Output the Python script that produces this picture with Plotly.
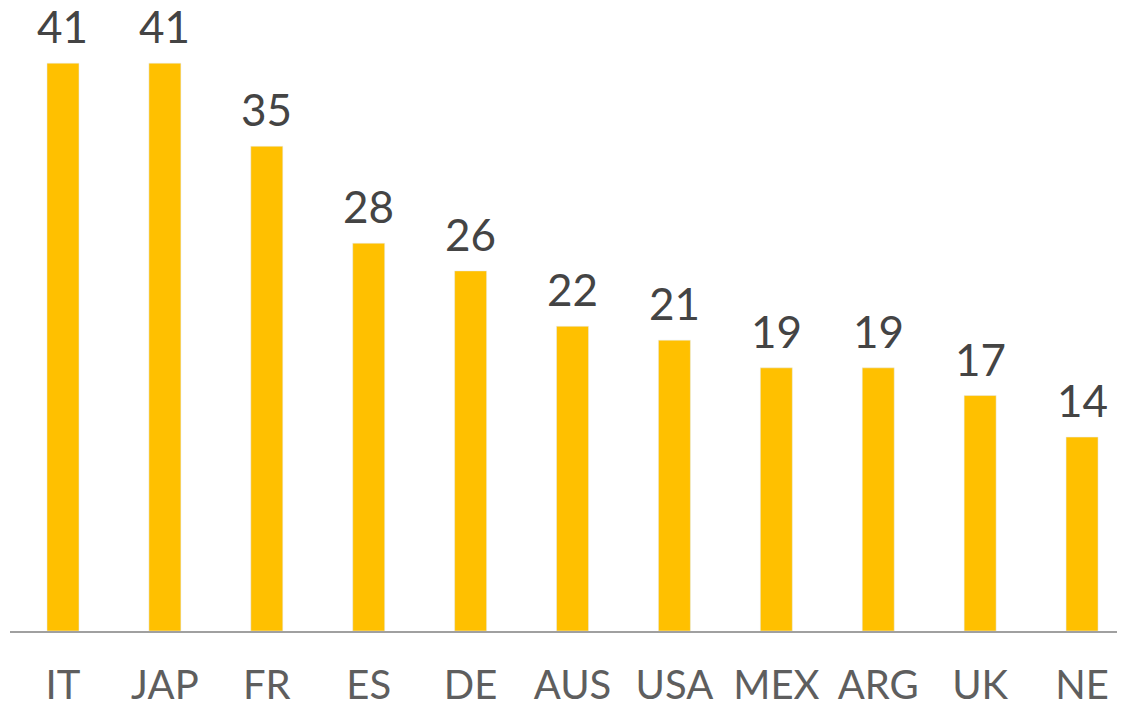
import plotly.graph_objects as go

categories = ["IT", "JAP", "FR", "ES", "DE", "AUS", "USA", "MEX", "ARG", "UK", "NE"]
values = [41, 41, 35, 28, 26, 22, 21, 19, 19, 17, 14]

bar_color = "#FFC000"
font_family = "Lato, 'Open Sans', sans-serif"

fig = go.Figure()
fig.add_trace(go.Bar(
    x=categories, y=values, marker_color=bar_color, width=0.314,
    hoverinfo="skip", cliponaxis=False,
))

for c, v in zip(categories, values):
    fig.add_annotation(x=c, y=v, text=str(v), showarrow=False, yanchor="bottom",
                       yshift=9, font=dict(size=44, color="#444444", family=font_family))

fig.update_layout(
    width=1125, height=707,
    margin=dict(l=2, r=0, t=0, b=84, autoexpand=False),
    paper_bgcolor="white", plot_bgcolor="white",
    showlegend=False,
    xaxis=dict(range=[-0.52, 10.5], showline=True, linecolor="#A0A0A0", linewidth=2,
               ticks="outside", ticklen=18, tickcolor="rgba(0,0,0,0)",
               tickfont=dict(size=40, color="#5E5E5E", family=font_family),
               showgrid=False, zeroline=False, fixedrange=True, automargin=False),
    yaxis=dict(range=[0, 44.98], visible=False, showgrid=False, zeroline=False,
               fixedrange=True, automargin=False),
)

fig.write_html("out.html")
